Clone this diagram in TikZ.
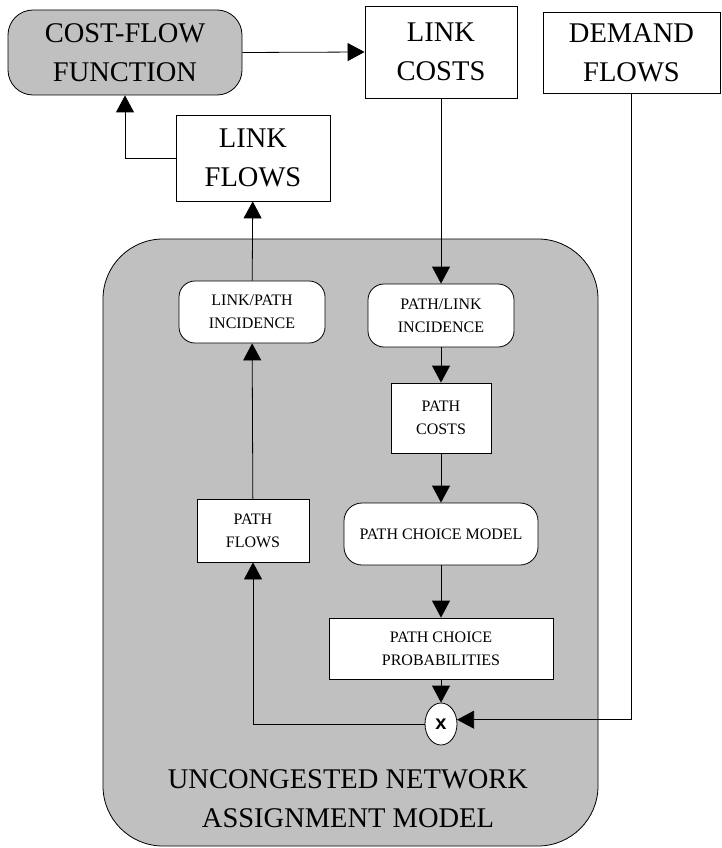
\documentclass[tikz,border=0pt]{standalone}
\usepackage{fontspec}
\setmainfont{Liberation Serif}
\newfontfamily\multfont{Liberation Sans}
\usetikzlibrary{arrows.meta,shapes.geometric}
\definecolor{modelgray}{RGB}{192,192,192}
\tikzset{
bigbox/.style={
  draw=black,
  fill=white,
  align=center,
  inner sep=0pt,
  line width=0.8pt,
  font=\fontsize{28.5}{39}\selectfont
  },
smallbox/.style={
  draw=black,
  fill=white,
  align=center,
  inner sep=0pt,
  line width=0.8pt,
  font=\fontsize{16}{23}\selectfont
  },
softbox/.style={smallbox, rounded corners=16pt},
flow/.style={-{Triangle[length=17pt,width=18pt]}, line width=0.8pt}
}

\begin{document}
\begin{tikzpicture}[x=1pt,y=-1pt]
\useasboundingbox (0,0) rectangle (721,848);

% the assignment model frame
\node[draw=black, fill=modelgray, line width=0.8pt, rounded corners=60pt,
      minimum width=495pt, minimum height=607pt] (model) at (350.5,542.5) {};
\node[align=center, font=\fontsize{28.5}{39}\selectfont] (modelname) at (348,799)
{UNCONGESTED NETWORK\\ASSIGNMENT MODEL};

% top row
\node[bigbox, fill=modelgray, rounded corners=25pt,
      minimum width=234pt, minimum height=85pt] (costflow) at (125,52.5)
{COST-FLOW\\FUNCTION};
\node[bigbox, minimum width=152pt, minimum height=92pt] (linkcost) at (441,52)
{LINK\\COSTS};
\node[bigbox, minimum width=177pt, minimum height=81pt] (demand) at (631.5,52.5)
{DEMAND\\FLOWS};
\node[bigbox, minimum width=154pt, minimum height=86pt] (linkflow) at (253,158)
{LINK\\FLOWS};

% inside the model
\node[softbox, minimum width=146pt, minimum height=62pt] (lpinc) at (252,312)
{LINK/PATH\\INCIDENCE};
\node[softbox, minimum width=146pt, minimum height=63pt] (plinc) at (441,315.5)
{PATH/LINK\\INCIDENCE};
\node[smallbox, minimum width=100pt, minimum height=70pt] (pathcost) at (441,418)
{PATH\\COSTS};
\node[smallbox, minimum width=112pt, minimum height=63pt] (pathflow) at (253,530.5)
{PATH\\FLOWS};
\node[softbox, rounded corners=18pt, minimum width=194pt, minimum height=62pt]
  (choicemodel) at (441,534) {PATH CHOICE MODEL};
\node[smallbox, minimum width=224pt, minimum height=61pt] (choiceprob) at (441,648.5)
{PATH CHOICE\\PROBABILITIES};
\node[ellipse, draw=black, fill=white, line width=0.8pt, inner sep=0pt,
      minimum width=32pt, minimum height=42pt,
      font=\multfont\bfseries\fontsize{20}{20}\selectfont] (mult) at (441,724) {x};

% connectors
\draw[flow] (costflow.east) -- (linkcost.west);
\draw[flow] (linkflow.west) -| (costflow.south);
\draw[flow] (linkcost.south) -- (plinc.north);
\draw[flow] (plinc) -- (pathcost);
\draw[flow] (pathcost) -- (choicemodel);
\draw[flow] (choicemodel) -- (choiceprob);
\draw[flow] (choiceprob) -- (mult);
\draw[flow] (demand.south) |- (mult.15);
\draw[flow] (mult.west) -| (pathflow.south);
\draw[flow] (pathflow) -- (lpinc);
\draw[flow] (lpinc) -- (linkflow);

\end{tikzpicture}
\end{document}
